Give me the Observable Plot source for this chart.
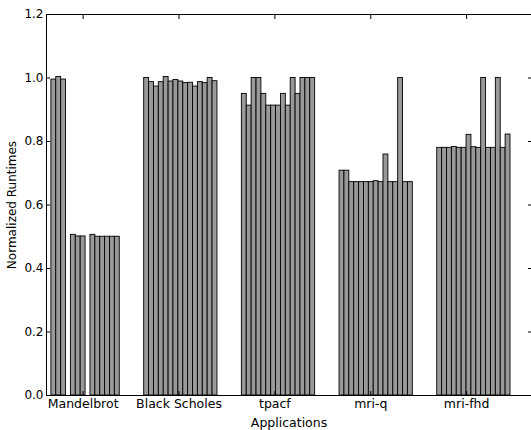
<!DOCTYPE html>
<html><head><meta charset="utf-8">
<script src="https://cdn.jsdelivr.net/npm/d3@7"></script>
<script src="https://cdn.jsdelivr.net/npm/@observablehq/plot@0.6"></script>
<style>body{margin:0;background:#fff} svg{display:block}</style>
</head><body><div id="chart"></div>
<script>
const apps = ["Mandelbrot", "Black Scholes", "tpacf", "mri-q", "mri-fhd"];
const mandelbrot = [null, 0.995, 1.003, 0.995, null, 0.506, 0.501, 0.501, null, 0.506, 0.500, 0.500, 0.500, 0.500, 0.500];
const blackScholes = [1.000, 0.987, 0.973, 0.987, 1.003, 0.989, 0.994, 0.989, 0.984, 0.985, 0.973, 0.987, 0.984, 1.000, 0.990];
const tpacf = [0.950, 0.913, 1.000, 1.000, 0.950, 0.913, 0.913, 0.913, 0.950, 0.913, 1.000, 0.950, 1.000, 1.000, 1.000];
const mriQ = [0.708, 0.708, 0.672, 0.672, 0.672, 0.672, 0.672, 0.675, 0.672, 0.759, 0.672, 0.672, 1.000, 0.672, 0.672];
const mriFhd = [0.780, 0.780, 0.780, 0.783, 0.780, 0.780, 0.821, 0.782, 0.780, 1.000, 0.780, 0.780, 1.000, 0.780, 0.822];
const yTicks = [0, 0.2, 0.4, 0.6, 0.8, 1.0, 1.2];

const series = [mandelbrot, blackScholes, tpacf, mriQ, mriFhd];
const slotsPerGroup = 20;
const tickSpacing = 19.63;
const data = [];
series.forEach((vals, i) => vals.forEach((v, j) => {
  if (v != null) data.push({app: apps[i], g: i, slot: j, value: v});
}));
const tickPos = apps.map((a, i) => i * tickSpacing + 7.5);

const chart = Plot.plot({
  width: 531, height: 430,
  marginLeft: 46, marginRight: 0, marginTop: 14, marginBottom: 35,
  style: {fontFamily: "DejaVu Sans", fontSize: "12px", background: "#fff", color: "#000"},
  x: {domain: [0, 99.3]},
  y: {domain: [0, 1.2]},
  marks: [
    Plot.rectY(data, {
      x1: d => d.g * slotsPerGroup + d.slot,
      x2: d => d.g * slotsPerGroup + d.slot + 1,
      y: "value", fill: "#999999", stroke: "#000", strokeWidth: 0.9
    }),
    Plot.frame({stroke: "#000"}),
    Plot.axisY(yTicks, {anchor: "left", tickSize: -4, tickPadding: 7, tickFormat: d3.format(".1f"), label: null}),
    Plot.axisY(yTicks, {anchor: "right", tickSize: -4, tickFormat: () => "", label: null}),
    Plot.axisX(tickPos, {anchor: "bottom", tickSize: -4, tickPadding: 8, tickFormat: d => apps[tickPos.indexOf(d)], label: null, fontSize: 12.5}),
    Plot.axisX(tickPos, {anchor: "top", tickSize: -4, tickFormat: () => "", label: null}),
    Plot.text(["Applications"], {frameAnchor: "bottom", dy: 27, lineAnchor: "middle", textAnchor: "middle", fontSize: 12.5}),
    Plot.text(["Normalized Runtimes"], {frameAnchor: "left", rotate: -90, dx: -34, textAnchor: "middle", lineAnchor: "middle", fontSize: 12})
  ]
});
document.getElementById("chart").append(chart);
</script>
</body></html>
